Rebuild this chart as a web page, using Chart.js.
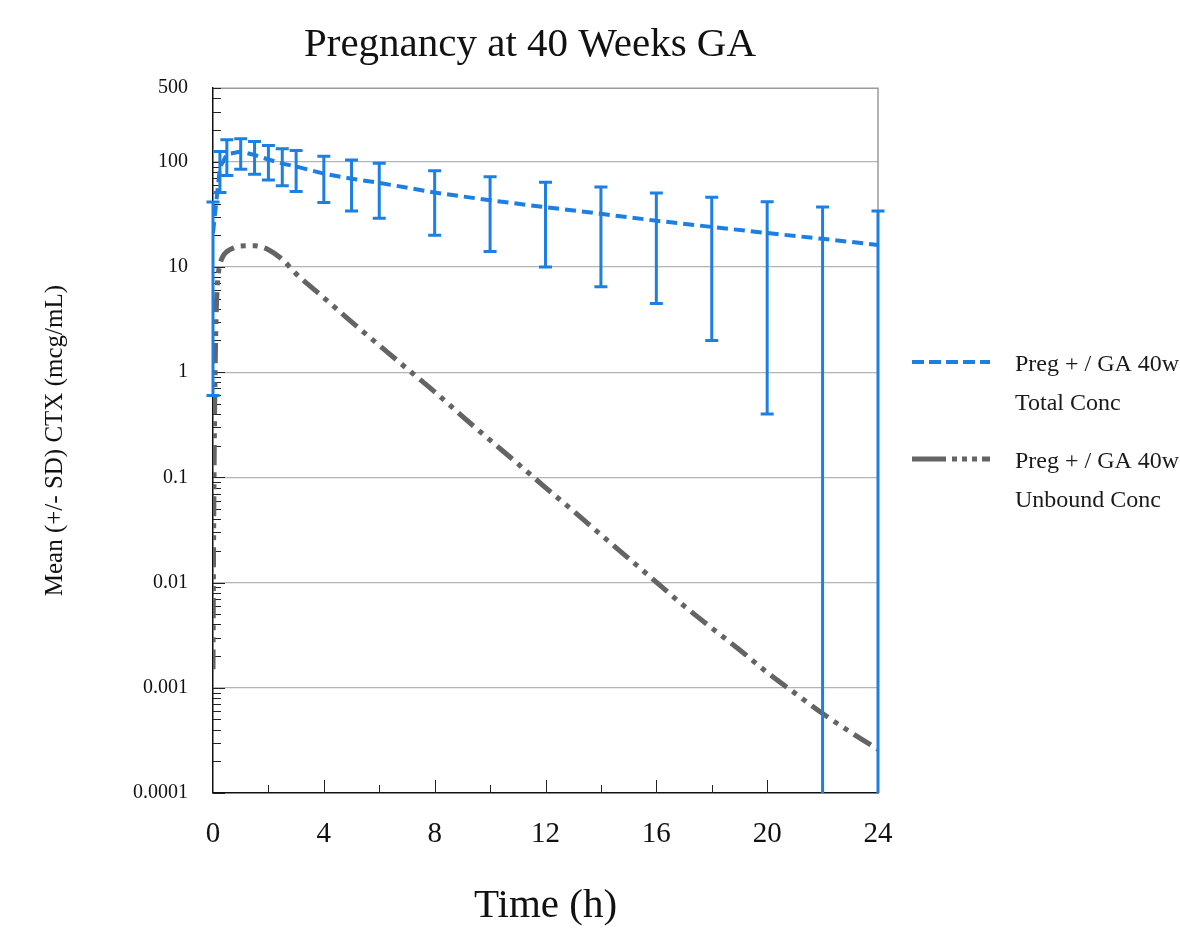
<!DOCTYPE html>
<html>
<head>
<meta charset="utf-8">
<script src="https://cdn.jsdelivr.net/npm/chart.js@4.4.0/dist/chart.umd.min.js"></script>
<style>
  html, body { margin: 0; padding: 0; background: #fff; overflow: hidden; }
  #wrap { position: relative; width: 1180px; height: 928px; }
</style>
</head>
<body>
<div id="wrap"><canvas id="chart" width="1180" height="928"></canvas></div>
<script>
// Total concentration: mean and SD at each sampling time (h)
const totalTimes = [0, 0.25, 0.5, 1, 1.5, 2, 2.5, 3, 4, 5, 6, 8, 10, 12, 14, 16, 18, 20, 22, 24];
const totalMean  = [21, 88, 118, 125, 116, 105, 96, 90, 77, 69, 63, 51, 43, 37, 32, 27.5, 24, 21, 18.5, 16.2];
const totalSD    = [20.4, 37, 44, 40, 40, 38, 37, 38, 36, 35, 34, 31, 29, 27, 25.5, 23, 22, 20.6, 18.6, 17.8];

// Unbound concentration (simulated curve)
const unboundTimes = [0, 0.02, 0.05, 0.08, 0.12, 0.17, 0.25, 0.35, 0.5, 0.75, 1, 1.5, 2, 2.5, 3, 4, 5, 6, 7, 8,
  9, 10, 11, 12, 13, 14, 15, 16, 17, 18, 19, 20, 21, 22, 23, 24];
const unboundConc = [0.0015, 0.02, 0.25, 1.2, 4, 7.5, 10.5, 12.5, 14, 15.2, 15.8, 15.9, 14.6, 11.8, 8.6, 5.1, 3.0, 1.8, 1.08, 0.65,
  0.38, 0.226, 0.135, 0.08, 0.048, 0.0285, 0.017, 0.0101, 0.006, 0.0037, 0.0023, 0.0014, 0.00089, 0.00057, 0.00038, 0.00026];

const xTicks = [0, 4, 8, 12, 16, 20, 24];
const yTicks = [0.0001, 0.001, 0.01, 0.1, 1, 10, 100, 500];
const yTickLabels = ['0.0001', '0.001', '0.01', '0.1', '1', '10', '100', '500'];
const yGridValues = [0.001, 0.01, 0.1, 1, 10, 100];

const legendItems = [
  { lines: ['Preg + / GA 40w', 'Total Conc'], dataset: 0 },
  { lines: ['Preg + / GA 40w', 'Unbound Conc'], dataset: 1 },
];

const BLUE = '#1c7fe2';
const GREY = '#646464';
const SERIF = '"Liberation Serif", "Times New Roman", serif';

// error bars (mean +/- SD), bar runs to the axis when mean - SD <= 0
const errorBars = {
  id: 'errorBars',
  afterDatasetsDraw(chart) {
    const { ctx, scales: { x, y } } = chart;
    ctx.save();
    ctx.strokeStyle = BLUE;
    ctx.lineWidth = 3;
    totalTimes.forEach((t, i) => {
      const px = x.getPixelForValue(t);
      const hi = totalMean[i] + totalSD[i];
      const lo = totalMean[i] - totalSD[i];
      const pTop = y.getPixelForValue(hi);
      const pBot = lo > 0 ? y.getPixelForValue(lo) : y.bottom;
      ctx.beginPath();
      ctx.moveTo(px, pTop); ctx.lineTo(px, pBot);
      ctx.moveTo(px - 6.5, pTop); ctx.lineTo(px + 6.5, pTop);
      if (lo > 0) { ctx.moveTo(px - 6.5, pBot); ctx.lineTo(px + 6.5, pBot); }
      ctx.stroke();
    });
    ctx.restore();
  }
};

// frame, inner tick marks and the side legend
const decorations = {
  id: 'decorations',
  afterLayout(chart) {
    // centre the title like the original figure
    if (chart.titleBlock) { chart.titleBlock.left = 0; chart.titleBlock.right = 1060; }
  },
  beforeDatasetsDraw(chart) {
    const { ctx, chartArea: a, scales: { x, y } } = chart;
    ctx.save();
    ctx.strokeStyle = '#9a9a9a';
    ctx.lineWidth = 1.5;
    ctx.beginPath();
    ctx.moveTo(a.left, a.top); ctx.lineTo(a.right, a.top); ctx.lineTo(a.right, a.bottom);
    ctx.stroke();

    ctx.strokeStyle = '#222';
    ctx.lineWidth = 1;
    ctx.beginPath();
    for (let d = -4; d <= 2; d++) {
      for (let m = 1; m <= 9; m++) {
        const v = m * Math.pow(10, d);
        if (v > 500) break;
        const py = Math.round(y.getPixelForValue(v)) + 0.5;
        const len = m === 1 ? 12 : 8;
        ctx.moveTo(a.left, py); ctx.lineTo(a.left + len, py);
      }
    }
    for (let t = 2; t < 24; t += 2) {
      const px = Math.round(x.getPixelForValue(t)) + 0.5;
      const len = t % 4 === 0 ? 13 : 8;
      ctx.moveTo(px, a.bottom); ctx.lineTo(px, a.bottom - len);
    }
    ctx.stroke();
    ctx.restore();
  },
  afterDraw(chart) {
    const { ctx } = chart;
    ctx.save();
    legendItems.forEach((item, k) => {
      const ds = chart.data.datasets[item.dataset];
      const yLine = 362 + k * 97;
      ctx.strokeStyle = ds.borderColor;
      ctx.lineWidth = ds.borderWidth;
      ctx.setLineDash(k === 0 ? [12, 5] : [34, 6, 5, 5, 5, 5, 5, 5]);
      ctx.beginPath();
      ctx.moveTo(912, yLine); ctx.lineTo(990, yLine);
      ctx.stroke();
      ctx.setLineDash([]);
      ctx.fillStyle = '#1a1a1a';
      ctx.font = '24px ' + SERIF;
      ctx.textBaseline = 'middle';
      item.lines.forEach((line, j) => ctx.fillText(line, 1015, yLine + 3 + j * 39));
    });
    ctx.restore();
  }
};

const ctx = document.getElementById('chart').getContext('2d');
new Chart(ctx, {
  type: 'line',
  data: {
    datasets: [
      {
        label: 'Preg + / GA 40w Total Conc',
        data: totalTimes.map((t, i) => ({ x: t, y: totalMean[i] })),
        borderColor: BLUE,
        borderWidth: 4,
        borderDash: [11, 6],
        pointRadius: 0,
        tension: 0,
      },
      {
        label: 'Preg + / GA 40w Unbound Conc',
        data: unboundTimes.map((t, i) => ({ x: t, y: unboundConc[i] })),
        borderColor: GREY,
        borderWidth: 5,
        borderDash: [20, 7, 5, 7, 5, 7],
        pointRadius: 0,
        cubicInterpolationMode: 'monotone',
      },
    ],
  },
  options: {
    responsive: false,
    animation: false,
    layout: { padding: { left: 0, right: 302, top: 0, bottom: 0 } },
    plugins: {
      legend: { display: false },
      tooltip: { enabled: false },
      title: {
        display: true,
        text: 'Pregnancy at 40 Weeks GA',
        color: '#111',
        font: { family: SERIF, size: 41, weight: 'normal', lineHeight: 1.2 },
        padding: { top: 21, bottom: 18 },
      },
    },
    scales: {
      x: {
        type: 'linear',
        min: 0,
        max: 24,
        afterBuildTicks: s => { s.ticks = xTicks.map(v => ({ value: v })); },
        afterFit: s => { s.height = 135; },
        ticks: { color: '#111', font: { family: SERIF, size: 29 }, padding: 24, maxRotation: 0, autoSkip: false },
        grid: { display: false, drawTicks: false },
        border: { display: true, color: '#111', width: 1.5 },
        title: {
          display: true,
          text: 'Time (h)',
          color: '#111',
          font: { family: SERIF, size: 41, lineHeight: 1 },
          padding: { top: 0, bottom: 1 },
        },
      },
      y: {
        type: 'logarithmic',
        min: 0.0001,
        max: 500,
        afterBuildTicks: s => { s.ticks = yTicks.map(v => ({ value: v })); },
        afterFit: s => { s.width = 213; },
        ticks: {
          color: '#111',
          font: { family: SERIF, size: 20 },
          padding: 25,
          autoSkip: false,
          callback: (v, i) => yTickLabels[i],
        },
        grid: {
          drawTicks: false,
          lineWidth: 1.2,
          color: c => (c.tick && yGridValues.includes(c.tick.value) ? '#b4b4b4' : 'rgba(0,0,0,0)'),
        },
        border: { display: true, color: '#111', width: 1.5 },
        title: {
          display: true,
          text: 'Mean (+/- SD) CTX (mcg/mL)',
          color: '#111',
          font: { family: SERIF, size: 25, lineHeight: 1.2 },
          padding: { top: 40, bottom: 0 },
        },
      },
    },
  },
  plugins: [errorBars, decorations],
});
</script>
</body>
</html>
